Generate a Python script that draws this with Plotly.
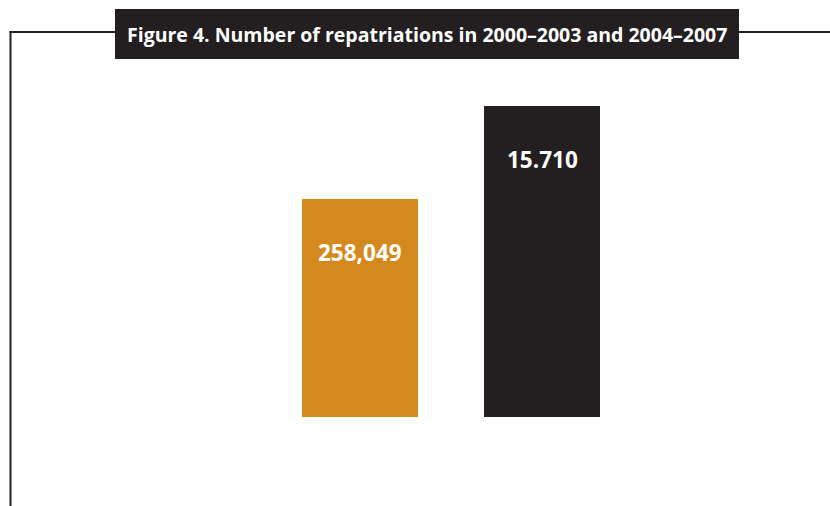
import plotly.graph_objects as go

# Data
categories = ["2000–2003", "2004–2007"]
values = [258049, 368300]          # bar heights
labels = ["258,049", "15.710"]      # labels as printed on the bars
colors = ["#D4891E", "#231F20"]
title = "Figure 4. Number of repatriations in 2000–2003 and 2004–2007"

W, H = 830, 506
ink = "#231F20"

fig = go.Figure()
fig.add_trace(go.Bar(
    x=categories, y=values,
    marker=dict(color=colors, line=dict(width=0)),
    width=0.637, hoverinfo="skip", showlegend=False,
))

for c, v, t in zip(categories, values, labels):
    fig.add_annotation(
        x=c, y=v, text=t, showarrow=False, yanchor="middle", yshift=-53,
        font=dict(family="Open Sans", size=22.5, color="white", weight="bold"),
    )

def px(x):
    return x / W

def py(y):
    return 1 - y / H

shapes = [
    # frame lines
    dict(type="line", xref="paper", yref="paper", x0=px(10.5), x1=px(10.5), y0=py(31), y1=py(506),
         line=dict(color=ink, width=2)),
    dict(type="line", xref="paper", yref="paper", x0=px(9.5), x1=px(116), y0=py(32), y1=py(32),
         line=dict(color=ink, width=2)),
    dict(type="line", xref="paper", yref="paper", x0=px(738), x1=px(830), y0=py(32), y1=py(32),
         line=dict(color=ink, width=2)),
    # title box
    dict(type="rect", xref="paper", yref="paper", x0=px(115), x1=px(739), y0=py(9), y1=py(59),
         fillcolor=ink, line=dict(width=0)),
]
fig.update_layout(shapes=shapes)

fig.add_annotation(
    xref="paper", yref="paper", x=px(427), y=py(34), text=title, showarrow=False,
    xanchor="center", yanchor="middle",
    font=dict(family="Open Sans", size=19.5, color="white", weight="bold"),
)

# scale: bottom of bars at y=416.67px, orange bar top at 199px
k = (416.67 - 199) / values[0]
ylo = -(H - 416.67) / k
yhi = 416.67 / k

fig.update_layout(
    width=W, height=H,
    margin=dict(l=0, r=0, t=0, b=0),
    paper_bgcolor="white", plot_bgcolor="white",
    xaxis=dict(range=[-360 / 182, (W - 360) / 182], visible=False, fixedrange=True),
    yaxis=dict(range=[ylo, yhi], visible=False, fixedrange=True),
    bargap=0,
)

fig.write_html("out.html")
